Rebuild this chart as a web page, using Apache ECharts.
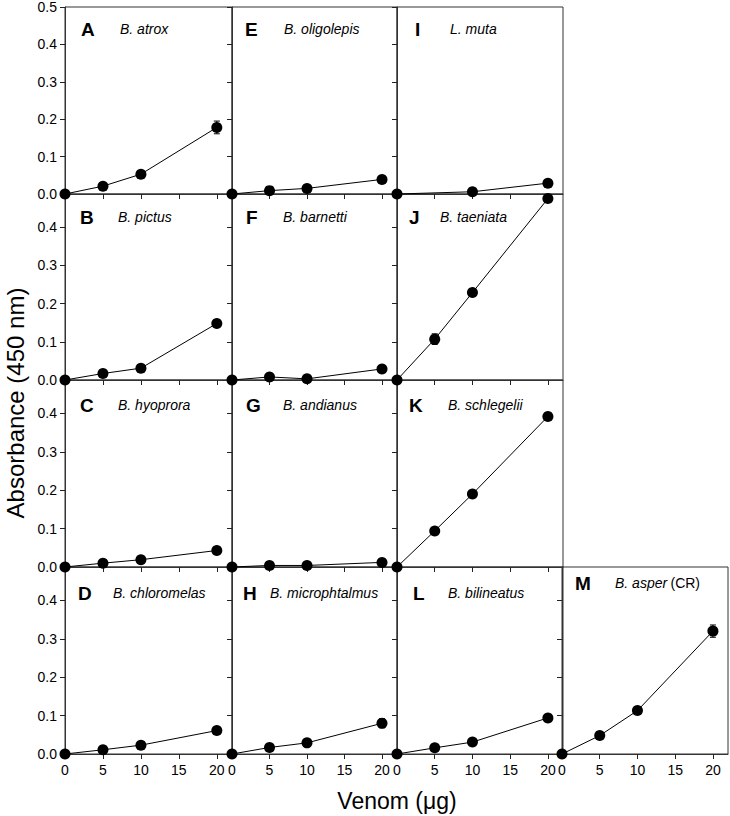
<!DOCTYPE html>
<html><head><meta charset="utf-8">
<script src="https://cdn.jsdelivr.net/npm/echarts@6/dist/echarts.min.js"></script>
<style>html,body{margin:0;padding:0;background:#fff}#c{width:730px;height:816px}</style>
</head><body><div id="c"></div>
<script>
// ---- data ----
const doses = [0, 5, 10, 20];
const xTicks = [0, 5, 10, 15, 20];
const yTicksTop = [0, 0.1, 0.2, 0.3, 0.4, 0.5];
const yTicks = [0, 0.1, 0.2, 0.3, 0.4];
const letters = ['A','B','C','D','E','F','G','H','I','J','K','L','M'];
const species = ['B. atrox','B. pictus','B. hyoprora','B. chloromelas','B. oligolepis','B. barnetti','B. andianus','B. microphtalmus','L. muta','B. taeniata','B. schlegelii','B. bilineatus','B. asper'];
const absA = [0, 0.021, 0.053, 0.178];   const errA = [0, 0, 0, 0.017];
const absB = [0, 0.017, 0.031, 0.148];   const errB = [0, 0, 0, 0];
const absC = [0, 0.010, 0.019, 0.043];   const errC = [0, 0, 0, 0];
const absD = [0, 0.011, 0.023, 0.061];   const errD = [0, 0, 0, 0];
const absE = [0, 0.009, 0.015, 0.039];   const errE = [0, 0, 0, 0];
const absF = [0, 0.008, 0.003, 0.029];   const errF = [0, 0, 0, 0];
const absG = [0, 0.004, 0.004, 0.012];   const errG = [0, 0, 0, 0];
const absH = [0, 0.017, 0.029, 0.080];   const errH = [0, 0, 0, 0.012];
const absI = [0, null, 0.006, 0.029];    const errI = [0, 0, 0, 0];
const absJ = [0, 0.107, 0.229, 0.475];   const errJ = [0, 0.014, 0, 0];
const absK = [0, 0.094, 0.190, 0.392];   const errK = [0, 0, 0, 0];
const absL = [0, 0.016, 0.031, 0.094];   const errL = [0, 0, 0, 0];
const absM = [0, 0.048, 0.113, 0.320];   const errM = [0, 0, 0, 0.016];
const values = [absA, absB, absC, absD, absE, absF, absG, absH, absI, absJ, absK, absL, absM];
const errors = [errA, errB, errC, errD, errE, errF, errG, errH, errI, errJ, errK, errL, errM];

// ---- layout ----
const colLeft = [65, 232, 397, 562];
const colWidth = [167, 165, 166, 166];
const rowTop = [7, 194, 380, 567];
const rowHeight = [187, 186, 187, 187];
const panelPos = [[0,0],[0,1],[0,2],[0,3],[1,0],[1,1],[1,2],[1,3],[2,0],[2,1],[2,2],[2,3],[3,3]];
const letterOff = [[16,22],[15,23],[15,25],[13,26],[13,22],[14,23],[14,25],[11,26],[18,22],[12,23],[12,25],[16,26],[13,16]];
const speciesOff = [[55,22],[53,23],[53,25],[48,26],[52,22],[51,23],[51,25],[38,26],[53,22],[43,23],[51,25],[51,26],[53,16]];

const FONT = '"Liberation Sans", Arial, sans-serif';
const grids = [], xAxes = [], yAxes = [], series = [], graphics = [];

panelPos.forEach((pos, i) => {
  const [c, r] = pos;
  const left = colLeft[c], top = rowTop[r], w = colWidth[c], h = rowHeight[r];
  grids.push({left: left, top: top, width: w, height: h, show: true, borderColor: '#333', borderWidth: 1, backgroundColor: 'transparent'});
  const bottom = (r === 3);
  xAxes.push({
    gridIndex: i, type: 'value', min: 0, max: 22,
    axisLine: {show: true, lineStyle: {color: '#333', width: 1}},
    axisTick: {show: true, length: 5, customValues: xTicks, lineStyle: {color: '#222'}},
    axisLabel: {show: bottom, customValues: xTicks, fontSize: 14, color: '#000', fontFamily: FONT, margin: 9},
    splitLine: {show: false}
  });
  const yt = (r === 0) ? yTicksTop : yTicks;
  yAxes.push({
    gridIndex: i, type: 'value', min: 0, max: (r === 0) ? 0.5 : 0.487,
    axisLine: {show: true, lineStyle: {color: '#333', width: 1}},
    axisTick: {show: true, length: 5, customValues: yt, lineStyle: {color: '#222'}},
    axisLabel: {show: c === 0, customValues: yt, fontSize: 14, color: '#000', fontFamily: FONT, margin: 8,
      formatter: v => v.toFixed(1)},
    splitLine: {show: false}
  });
  const vals = values[i], errs = errors[i];
  const pts = doses.map((d, k) => [d, vals[k]]).filter(p => p[1] !== null);
  series.push({
    type: 'custom', xAxisIndex: i, yAxisIndex: i, clip: false, z: 3,
    data: doses.map((d, k) => [d, vals[k] === null ? 0 : vals[k], errs[k]]),
    renderItem: (params, api) => {
      const x = api.value(0), y = api.value(1), e = api.value(2);
      if (!e) return null;
      const p1 = api.coord([x, y + e]), p2 = api.coord([x, y - e]);
      const st = {stroke: '#000', lineWidth: 1};
      return {type: 'group', children: [
        {type: 'line', shape: {x1: p1[0], y1: p1[1], x2: p2[0], y2: p2[1]}, style: st},
        {type: 'line', shape: {x1: p1[0]-3, y1: p1[1], x2: p1[0]+3, y2: p1[1]}, style: st},
        {type: 'line', shape: {x1: p2[0]-3, y1: p2[1], x2: p2[0]+3, y2: p2[1]}, style: st}
      ]};
    }
  });
  series.push({
    type: 'line', xAxisIndex: i, yAxisIndex: i, data: pts, clip: false, z: 4,
    symbol: 'circle', symbolSize: 11, showSymbol: true,
    itemStyle: {color: '#000', borderWidth: 0},
    lineStyle: {color: '#000', width: 1},
    emphasis: {disabled: true}
  });
  graphics.push({type: 'text', x: left + letterOff[i][0], y: top + letterOff[i][1], z: 10,
    style: {text: letters[i], font: 'bold 19px ' + FONT, fill: '#000', textVerticalAlign: 'middle'}});
  if (letters[i] === 'M') {
    graphics.push({type: 'text', x: left + speciesOff[i][0], y: top + speciesOff[i][1], z: 10,
      style: {text: '{i|' + species[i] + '} {n|(CR)}', rich: {i: {fontStyle: 'italic', fontSize: 14, fontFamily: FONT, fill: '#000'}, n: {fontSize: 14, fontFamily: FONT, fill: '#000'}}, textVerticalAlign: 'middle'}});
  } else {
    graphics.push({type: 'text', x: left + speciesOff[i][0], y: top + speciesOff[i][1], z: 10,
      style: {text: species[i], font: 'italic 14px ' + FONT, fill: '#000', textVerticalAlign: 'middle'}});
  }
});

graphics.push({type: 'text', x: 397, y: 801, z: 10,
  style: {text: 'Venom (\u03bcg)', font: '23px ' + FONT, fill: '#000', textAlign: 'center', textVerticalAlign: 'middle'}});
graphics.push({type: 'text', x: 15, y: 403, rotation: Math.PI / 2, z: 10,
  style: {text: 'Absorbance (450 nm)', font: '24px ' + FONT, fill: '#000', textAlign: 'center', textVerticalAlign: 'middle'}});

const chart = echarts.init(document.getElementById('c'), null, {renderer: 'svg'});
chart.setOption({
  animation: false,
  backgroundColor: '#fff',
  grid: grids, xAxis: xAxes, yAxis: yAxes, series: series, graphic: graphics
});
</script></body></html>
